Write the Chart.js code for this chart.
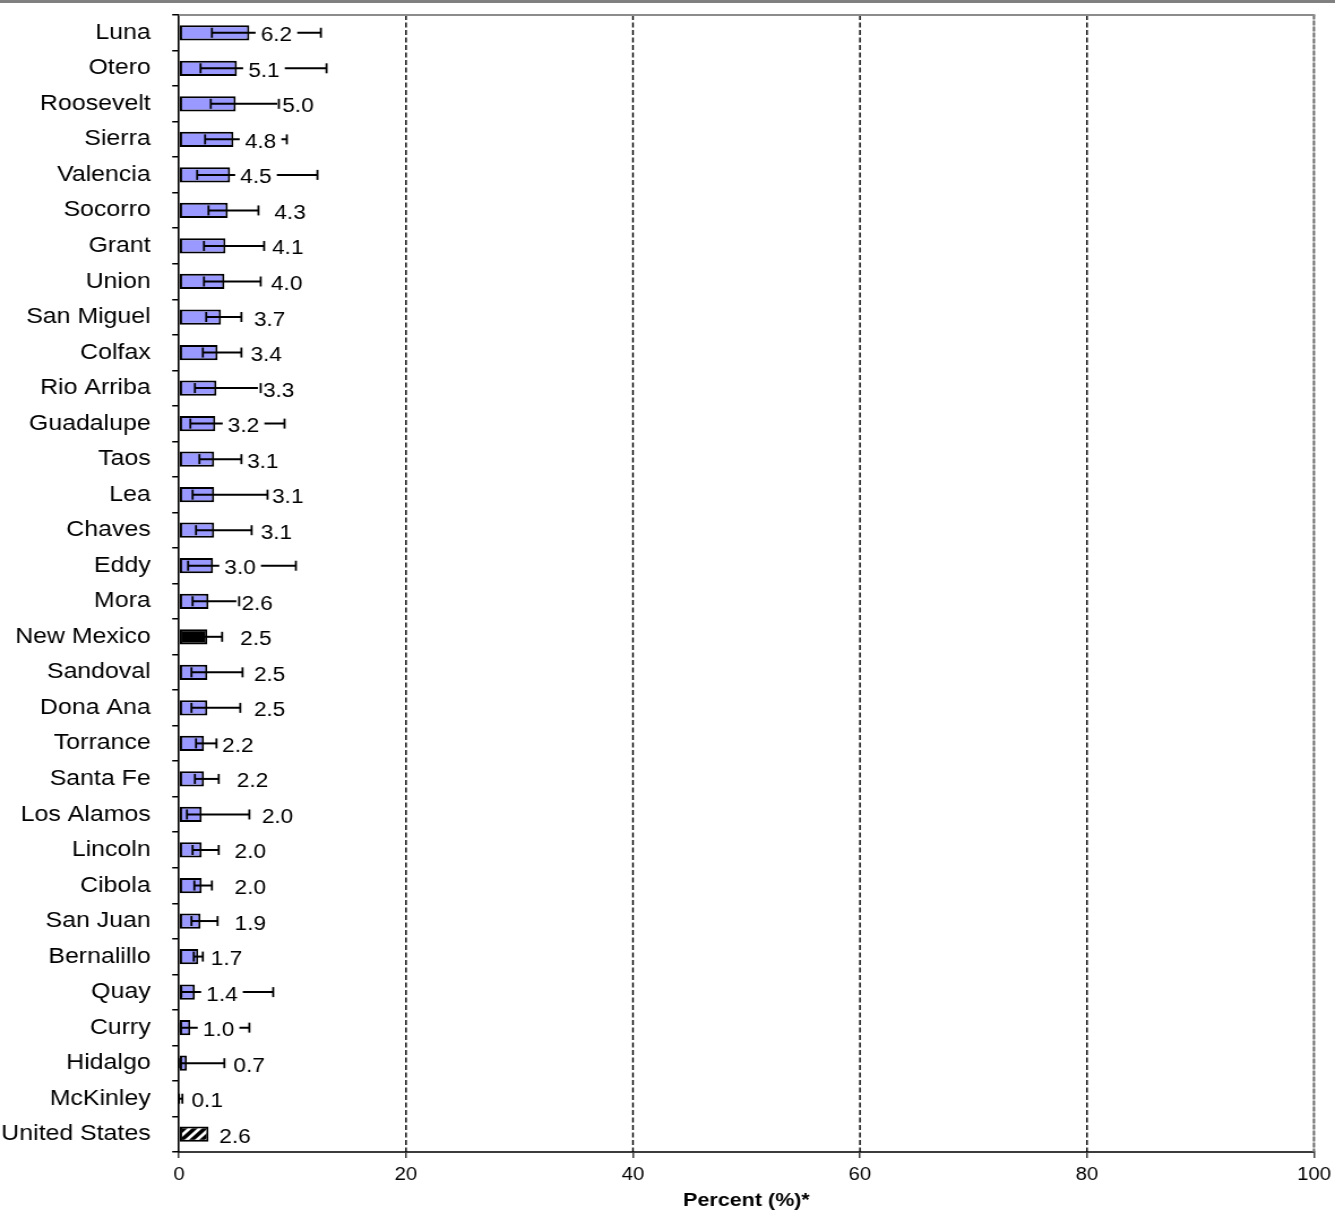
<!DOCTYPE html>
<html>
<head>
<meta charset="utf-8">
<script src="https://cdn.jsdelivr.net/npm/chart.js@4.4.1/dist/chart.umd.min.js"></script>
<style>
  html, body { margin: 0; padding: 0; background: #fff; }
  #chart { display: block; }
</style>
</head>
<body>
<!-- drawn a bit narrower and widened by CSS, like the original export -->
<canvas id="chart" width="1180" height="1210" style="width:1335px;height:1210px"></canvas>
<script>
const counties = ['Luna', 'Otero', 'Roosevelt', 'Sierra', 'Valencia', 'Socorro', 'Grant', 'Union',
  'San Miguel', 'Colfax', 'Rio Arriba', 'Guadalupe', 'Taos', 'Lea', 'Chaves', 'Eddy', 'Mora',
  'New Mexico', 'Sandoval', 'Dona Ana', 'Torrance', 'Santa Fe', 'Los Alamos', 'Lincoln', 'Cibola',
  'San Juan', 'Bernalillo', 'Quay', 'Curry', 'Hidalgo', 'McKinley', 'United States'];
const percent = [6.2, 5.1, 5.0, 4.8, 4.5, 4.3, 4.1, 4.0, 3.7, 3.4, 3.3, 3.2, 3.1, 3.1, 3.1, 3.0, 2.6,
  2.5, 2.5, 2.5, 2.2, 2.2, 2.0, 2.0, 2.0, 1.9, 1.7, 1.4, 1.0, 0.7, 0.1, 2.6];
// 95% confidence limits (none for the US figure)
const lowerCI = [2.9, 1.9, 2.8, 2.3, 1.6, 2.6, 2.2, 2.2, 2.4, 2.1, 1.4, 1.0, 1.8, 1.2, 1.5, 0.8, 1.2,
  1.9, 1.1, 1.1, 1.5, 1.4, 0.7, 1.2, 1.35, 1.1, 1.3, 0.2, 0.15, 0.1, 0.0, null];
const upperCI = [12.5, 13.0, 8.8, 9.5, 12.2, 7.0, 7.5, 7.2, 5.5, 5.5, 7.2, 9.3, 5.5, 7.8, 6.4, 10.3, 5.3,
  3.8, 5.6, 5.4, 3.3, 3.5, 6.2, 3.5, 2.9, 3.4, 2.1, 8.3, 6.2, 4.0, 0.3, null];
const xTicks = [0, 20, 40, 60, 80, 100];

// where each value label starts along the axis, in percent
const labelAt = [7.2, 6.1, 9.1, 5.8, 5.4, 8.4, 8.2, 8.1, 6.6, 6.3, 7.4, 4.3, 6.0, 8.2, 7.2, 4.0, 5.5,
  5.4, 6.6, 6.6, 3.8, 5.1, 7.3, 4.9, 4.9, 4.9, 2.8, 2.4, 2.1, 4.8, 1.1, 3.55];

const FONT = '"Liberation Sans", Arial, Helvetica, sans-serif';

// black and white diagonal hatch for the national bar
function hatch() {
  const p = document.createElement('canvas');
  p.width = 9; p.height = 9;
  const g = p.getContext('2d');
  g.fillStyle = '#000';
  g.fillRect(0, 0, 9, 9);
  g.strokeStyle = '#fff';
  g.lineWidth = 2.8;
  g.beginPath();
  g.moveTo(-1, 10); g.lineTo(10, -1);
  g.moveTo(-2, 2); g.lineTo(2, -2);
  g.moveTo(7, 11); g.lineTo(11, 7);
  g.stroke();
  return g.createPattern(p, 'repeat');
}

const fills = counties.map(c => {
  if (c === 'New Mexico') return '#000000';
  if (c === 'United States') return hatch();
  return '#9999ff';
});

const overlay = {
  id: 'overlay',
  beforeDraw(chart) {
    const c = chart.ctx;
    c.save();
    c.fillStyle = '#808080';
    c.fillRect(0, 0, chart.width, 3);
    c.restore();
  },
  beforeDatasetsDraw(chart) {
    const { ctx: c, chartArea: a, scales: { x } } = chart;
    c.save();
    // dashed verticals
    c.strokeStyle = '#000';
    c.lineWidth = 1.4;
    c.setLineDash([5, 2.5]);
    xTicks.slice(1, -1).forEach(v => {
      const px = x.getPixelForValue(v);
      c.beginPath(); c.moveTo(px, a.top); c.lineTo(px, a.bottom); c.stroke();
    });
    // plot frame: right and top edges
    const rx = x.getPixelForValue(100);
    c.setLineDash([]);
    c.strokeStyle = '#a8a8a8';
    c.lineWidth = 1.8;
    c.beginPath(); c.moveTo(rx, a.top); c.lineTo(rx, a.bottom); c.stroke();
    c.strokeStyle = '#6c6c6c';
    c.setLineDash([4, 2]);
    c.beginPath(); c.moveTo(rx, a.top); c.lineTo(rx, a.bottom); c.stroke();
    c.setLineDash([]);
    c.strokeStyle = '#8c8c8c';
    c.lineWidth = 2;
    c.beginPath(); c.moveTo(a.left, a.top); c.lineTo(rx + 1, a.top); c.stroke();
    c.restore();
  },
  afterDatasetsDraw(chart) {
    const { ctx: c, scales: { x, y } } = chart;
    const cap = 5;
    c.save();
    c.strokeStyle = '#000';
    c.lineWidth = 2;
    counties.forEach((_, i) => {
      if (lowerCI[i] == null) return;
      const py = y.getPixelForValue(i);
      c.beginPath();
      c.moveTo(x.getPixelForValue(lowerCI[i]), py);
      c.lineTo(x.getPixelForValue(upperCI[i]), py);
      c.stroke();
    });
    // value labels sit on a white box over the whiskers
    c.font = '20px ' + FONT;
    c.textBaseline = 'alphabetic';
    c.textAlign = 'left';
    counties.forEach((_, i) => {
      const txt = percent[i].toFixed(1);
      const px = x.getPixelForValue(labelAt[i]);
      const py = y.getPixelForValue(i);
      const w = c.measureText(txt).width;
      c.fillStyle = '#fff';
      c.fillRect(px - 4.5, py - 10, w + 9, 21);
      c.fillStyle = '#000';
      c.fillText(txt, px, py + 8.5);
    });
    // end caps
    c.lineWidth = 1.8;
    counties.forEach((_, i) => {
      if (lowerCI[i] == null) return;
      const py = y.getPixelForValue(i);
      [lowerCI[i], upperCI[i]].forEach(v => {
        const px = x.getPixelForValue(v);
        c.beginPath(); c.moveTo(px, py - cap); c.lineTo(px, py + cap); c.stroke();
      });
    });
    c.restore();
  }
};

new Chart(document.getElementById('chart'), {
  type: 'bar',
  data: {
    labels: counties,
    datasets: [{
      data: percent,
      backgroundColor: fills,
      borderColor: '#000',
      borderWidth: 2,
      borderSkipped: false,
      barPercentage: 0.43,
      categoryPercentage: 1
    }]
  },
  options: {
    indexAxis: 'y',
    responsive: false,
    animation: false,
    layout: { padding: { top: 15, right: 18.6, bottom: 0, left: 0 } },
    plugins: { legend: { display: false }, tooltip: { enabled: false } },
    scales: {
      x: {
        type: 'linear',
        min: 0,
        max: 100,
        afterBuildTicks: s => { s.ticks = xTicks.map(v => ({ value: v })); },
        afterFit: s => { s.height = 58; s.paddingLeft = 0; s.paddingRight = 0; },
        grid: { drawOnChartArea: false, drawTicks: true, tickLength: 6, color: '#3c3c3c', lineWidth: 1.5 },
        border: { color: '#3c3c3c', width: 2 },
        ticks: { color: '#000', padding: 6, maxRotation: 0, font: { family: FONT, size: 18 } },
        title: {
          display: true,
          text: 'Percent (%)*',
          color: '#000',
          padding: 0,
          font: { family: FONT, size: 19, weight: 'bold', lineHeight: 1 }
        }
      },
      y: {
        afterFit: s => { s.width = 158.2; s.paddingTop = 0; s.paddingBottom = 0; },
        grid: { offset: true, drawOnChartArea: false, tickLength: 6, color: '#000', lineWidth: 1.5 },
        border: { color: '#000', width: 1.6 },
        ticks: { color: '#000', padding: 19, autoSkip: false, font: { family: FONT, size: 22 } }
      }
    }
  },
  plugins: [overlay]
});
</script>
</body>
</html>
